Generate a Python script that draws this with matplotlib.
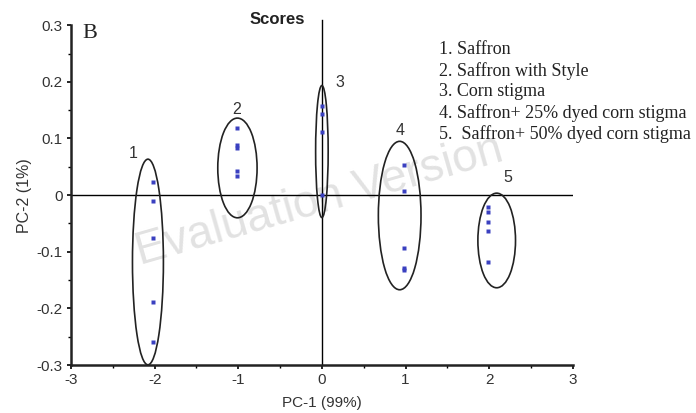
import matplotlib
matplotlib.use("Agg")
import matplotlib.pyplot as plt
from matplotlib.patches import Ellipse
from matplotlib.ticker import MultipleLocator

# PCA score values per sample group
group_x = [-2.02, -1.01, 0.0, 0.98, 1.99]
group_y = [
    [0.023, -0.01, -0.075, -0.188, -0.26],
    [0.119, 0.088, 0.084, 0.042, 0.034],
    [0.158, 0.143, 0.111, 0.0],
    [0.054, 0.008, -0.094, -0.128, -0.133],
    [-0.021, -0.029, -0.048, -0.063, -0.118],
]

# confidence ellipses: centre x, centre y, width, height
ell_cx = [-2.08, -1.01, 0.0, 0.93, 2.09]
ell_cy = [-0.118, 0.048, 0.077, -0.036, -0.08]
ell_w = [0.37, 0.47, 0.15, 0.51, 0.45]
ell_h = [0.363, 0.176, 0.233, 0.262, 0.167]

# group number labels
label_x = [-2.26, -1.02, 0.21, 0.93, 2.22]
label_y = [0.073, 0.151, 0.198, 0.114, 0.031]
group_names = [
    "1. Saffron",
    "2. Saffron with Style",
    "3. Corn stigma",
    "4. Saffron+ 25% dyed corn stigma",
    "5.  Saffron+ 50% dyed corn stigma",
]

sans = "Liberation Sans"
serif = "Liberation Serif"
txt = "#333333"

fig = plt.figure(figsize=(6.96, 4.13), dpi=100)
ax = fig.add_axes([0.102, 0.116, 0.721, 0.823])

ax.set_xlim(-3, 3)
ax.set_ylim(-0.3, 0.3)

# faint watermark across the plot
ax.text(-0.03, -0.01, "Evaluation Version", fontsize=33, family=sans,
        color="#e2e2e2", rotation=16, ha="center", va="center", zorder=0)

ax.axhline(0, color="black", lw=1.0, zorder=1)
ax.plot([0, 0], [-0.3, 0.31], color="black", lw=1.0, clip_on=False, zorder=1)

for x, ys in zip(group_x, group_y):
    ax.plot([x] * len(ys), ys, "s", ms=3.0, color="#3a40c0", mec="none", zorder=3)

for cx, cy, w, h in zip(ell_cx, ell_cy, ell_w, ell_h):
    ax.add_patch(Ellipse((cx, cy), w, h, fill=False, ec="#222222", lw=1.2, zorder=2))

for i, (lx, ly) in enumerate(zip(label_x, label_y)):
    ax.text(lx, ly, str(i + 1), fontsize=11.5, family=sans, color=txt,
            ha="center", va="center")

for side in ["top", "right"]:
    ax.spines[side].set_visible(False)
for side in ["left", "bottom"]:
    ax.spines[side].set_linewidth(1.8)
    ax.spines[side].set_color("#222222")

ax.xaxis.set_major_locator(MultipleLocator(1))
ax.xaxis.set_minor_locator(MultipleLocator(0.5))
ax.yaxis.set_major_locator(MultipleLocator(0.1))
ax.yaxis.set_minor_locator(MultipleLocator(0.05))
ax.tick_params(which="major", length=3, width=1.2, direction="out", pad=3,
               labelsize=11, labelcolor=txt)
ax.tick_params(which="minor", length=2, width=1.0, direction="out")
ax.set_xticks([-3, -2, -1, 0, 1, 2, 3])
ax.set_xticklabels(["-3", "-2", "-1", "0", "1", "2", "3"], family=sans)
ax.set_yticks([-0.3, -0.2, -0.1, 0, 0.1, 0.2, 0.3])
ax.set_yticklabels(["-0.3", "-0.2", "-0.1", "0", "0.1", "0.2", "0.3"], family=sans)

ax.set_xlabel("PC-1 (99%)", fontsize=11, family=sans, color=txt, labelpad=6)
ax.set_ylabel("PC-2 (1%)", fontsize=11.5, family=sans, color=txt, labelpad=3)

fig.text(90 / 696, 1 - 33 / 413, "B", fontsize=16, family=serif,
         color="#222222", ha="center", va="center")
fig.text(277 / 696, 1 - 20 / 413, "Scores", fontsize=12, family=sans,
         weight="bold", color="#222222", ha="center", va="center")

legend_y = [50, 71, 92, 113, 134]
for name, ly in zip(group_names, legend_y):
    fig.text(439 / 696, 1 - ly / 413, name, fontsize=13, family=serif,
             color="#222222", ha="left", va="center")

fig.savefig("out.png", dpi=100)
